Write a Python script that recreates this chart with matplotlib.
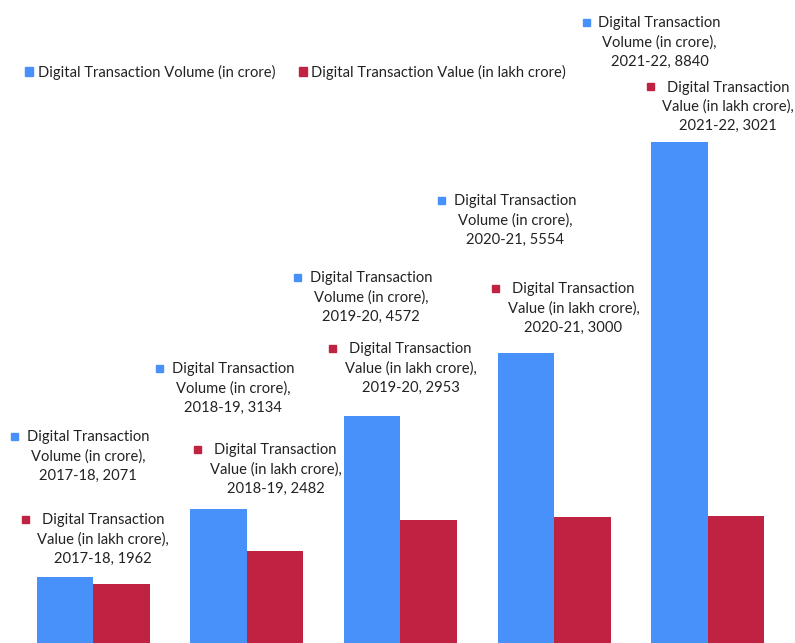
import matplotlib.pyplot as plt
from matplotlib.patches import Patch, Rectangle
import numpy as np

# data
years = ["2017-18", "2018-19", "2019-20", "2020-21", "2021-22"]
volume = [2071, 3134, 4572, 5554, 8840]   # in crore
value = [1962, 2482, 2953, 3000, 3021]    # in lakh crore

blue = "#4891FA"
red = "#C02242"
txt = "#222222"

plt.rcParams["font.family"] = ["Lato", "DejaVu Sans"]
plt.rcParams["font.size"] = 10.6

fig = plt.figure(figsize=(7.95, 6.43), dpi=100)
ax = fig.add_axes([0, 0, 1, 1])

x = np.arange(len(years))
w = 0.3675
ax.bar(x - w / 2, volume, w, color=blue)
ax.bar(x + w / 2, value, w, color=red)
ax.set_xlim(-0.605, 4.566)
ax.set_ylim(1044, 11050)
ax.axis("off")

# label offsets (pixels from bar top) - hand placed like in the source chart
vol_off = [(23, 121), (14.5, 120), (-1, 119), (-11, 133), (-20, 100)]
val_off = [(-18, 45), (0.5, 81), (-18, 152), (-9, 209), (-8, 409)]

labels = []
for i in range(len(years)):
    t = ax.annotate(f"Digital Transaction\nVolume (in crore),\n{years[i]}, {volume[i]}",
                    xy=(x[i] - w / 2, volume[i]), xytext=vol_off[i],
                    textcoords="offset pixels", ha="center", va="center",
                    color=txt, linespacing=1.47)
    labels.append((t, blue))
    t = ax.annotate(f"Digital Transaction\nValue (in lakh crore),\n{years[i]}, {value[i]}",
                    xy=(x[i] + w / 2, value[i]), xytext=val_off[i],
                    textcoords="offset pixels", ha="center", va="center",
                    color=txt, linespacing=1.47)
    labels.append((t, red))

# legend
handles = [Patch(color=blue, label="Digital Transaction Volume (in crore)"),
           Patch(color=red, label="Digital Transaction Value (in lakh crore)")]
fig.legend(handles=handles, loc="center left", bbox_to_anchor=(25 / 795, 1 - 72 / 643),
           ncol=2, frameon=False, handlelength=0.55, handleheight=0.55,
           handletextpad=0.3, columnspacing=1.6, borderpad=0, borderaxespad=0,
           labelcolor=txt)

# small square keys next to the data labels
fig.canvas.draw()
r = fig.canvas.get_renderer()
inv = fig.transFigure.inverted()
for t, c in labels:
    bb = t.get_window_extent(r)
    cx = bb.x0 - 12
    cy = (bb.y0 + bb.y1) / 2 + 20
    (fx, fy), = inv.transform([(cx - 3.5, cy - 3.5)])
    fig.add_artist(Rectangle((fx, fy), 7 / 795, 7 / 643, color=c,
                             transform=fig.transFigure))

fig.savefig("out.png", dpi=100)
